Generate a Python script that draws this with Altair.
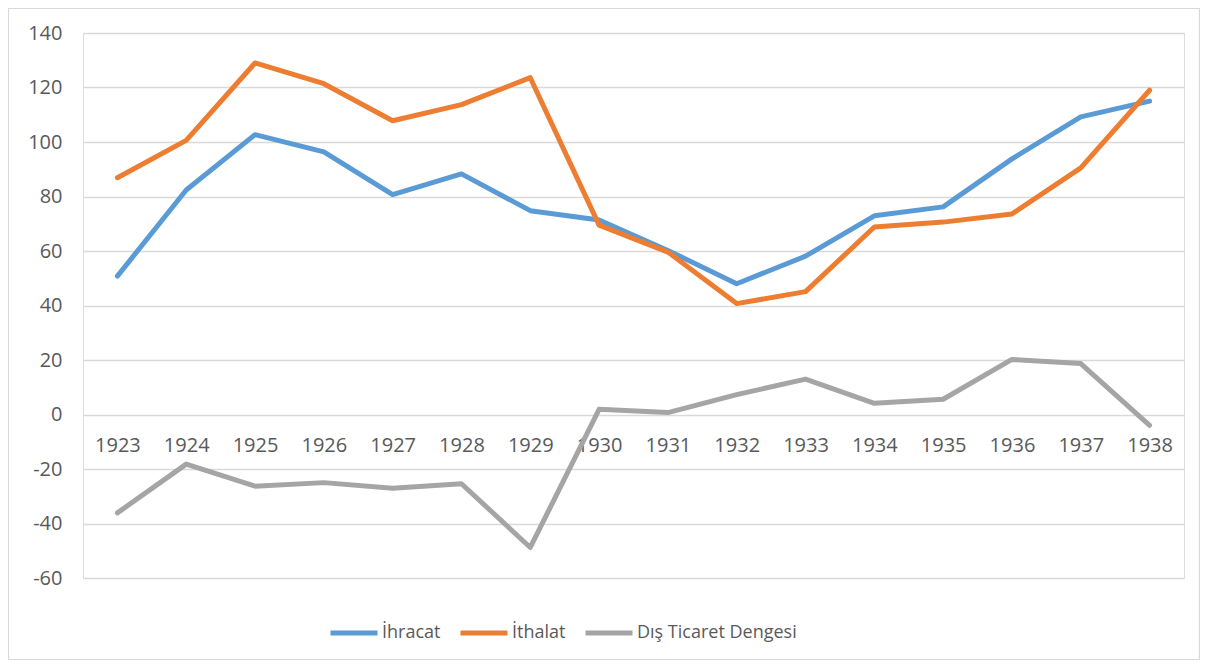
import altair as alt
import pandas as pd

years = [str(y) for y in range(1923, 1939)]
ihracat = [50.8, 82.4, 102.7, 96.4, 80.7, 88.3, 74.8, 71.4, 60.2, 48.0, 58.1, 72.9, 76.2, 93.8, 109.2, 115.0]
ithalat = [86.9, 100.6, 129.0, 121.4, 107.8, 113.7, 123.6, 69.5, 59.6, 40.7, 45.1, 68.8, 70.6, 73.6, 90.5, 119.0]
denge = [-36.1, -18.2, -26.3, -25.0, -27.1, -25.4, -48.8, 1.9, 0.7, 7.3, 13.0, 4.1, 5.6, 20.2, 18.7, -4.0]
series_names = ["İhracat", "İthalat", "Dış Ticaret Dengesi"]
series_colors = ["#5B9BD5", "#ED7D31", "#A5A5A5"]
y_ticks = [-60, -40, -20, 0, 20, 40, 60, 80, 100, 120, 140]

rows = []
for name, vals in zip(series_names, [ihracat, ithalat, denge]):
    for i, (yr, v) in enumerate(zip(years, vals)):
        rows.append({"year": yr, "series": name, "value": v, "order": series_names.index(name)})
df = pd.DataFrame(rows)

W, H = 1101, 545
FONT = "Open Sans"
TXT = "#595959"

lines = alt.Chart(df).mark_line(strokeWidth=5, strokeCap="round", strokeJoin="round").encode(
    x=alt.X("year:O", sort=years,
            scale=alt.Scale(type="point", padding=0.5),
            axis=alt.Axis(title=None, orient="bottom", offset=-163.5, domain=False, ticks=False,
                          labelPadding=21, labelAngle=0, labelFont=FONT, labelFontSize=20,
                          labelColor=TXT, grid=False)),
    y=alt.Y("value:Q", scale=alt.Scale(domain=[-60, 140], nice=False, zero=False),
            axis=alt.Axis(title=None, values=y_ticks, domain=False, ticks=False, labelPadding=21,
                          labelExpr="datum.value + ''",
                          labelFont=FONT, labelFontSize=20, labelColor=TXT,
                          grid=True, gridColor="#D9D9D9", gridWidth=1.3)),
    color=alt.Color("series:N", sort=series_names,
                    scale=alt.Scale(domain=series_names, range=series_colors),
                    legend=alt.Legend(title=None, orient="none", direction="horizontal",
                                      legendX=245, legendY=574, symbolType="stroke",
                                      symbolSize=2209, symbolStrokeWidth=5, labelOffset=2,
                                      columnPadding=9, labelFont=FONT, labelFontSize=18,
                                      labelColor=TXT, padding=0)),
    order=alt.Order("order:Q"),
)

border = alt.Chart(pd.DataFrame({"a": [0]})).mark_rect(
    fill="transparent", stroke="#D9D9D9", strokeWidth=1.2
).encode(x=alt.value(-74.5), x2=alt.value(W + 15.5), y=alt.value(-24.5), y2=alt.value(H + 81.5))

chart = alt.layer(border, lines).properties(
    width=W, height=H,
    autosize=alt.AutoSizeParams(type="none"),
    padding={"left": 75, "top": 25, "right": 16, "bottom": 82},
).configure_view(stroke=None).configure(background="white")

chart.save("out.html", embed_options={"renderer": "svg", "actions": False})
